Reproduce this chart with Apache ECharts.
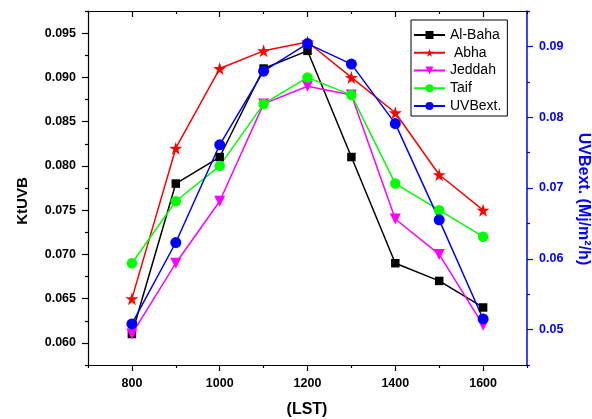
<!DOCTYPE html>
<html><head><meta charset="utf-8">
<script src="https://cdn.jsdelivr.net/npm/echarts@6/dist/echarts.min.js"></script>
<style>html,body{margin:0;padding:0;background:#fff}#c{width:592px;height:419px}</style>
</head><body><div id="c"></div>
<script>
const hours = [800, 900, 1000, 1100, 1200, 1300, 1400, 1500, 1600];
const alBaha = [0.061, 0.078, 0.081, 0.091, 0.093, 0.081, 0.069, 0.067, 0.064];
const abha   = [0.065, 0.082, 0.091, 0.093, 0.094, 0.090, 0.086, 0.079, 0.075];
const jeddah = [0.061, 0.069, 0.076, 0.087, 0.089, 0.088, 0.074, 0.070, 0.062];
const taif   = [0.069, 0.076, 0.080, 0.087, 0.090, 0.088, 0.078, 0.075, 0.072];
const uvbExt = [0.0508, 0.0623, 0.0761, 0.0865, 0.0904, 0.0875, 0.0791, 0.0655, 0.0515];
const xTickLabels = [800, 1000, 1200, 1400, 1600];
const xMinorTicks = [700, 900, 1100, 1300, 1500, 1700];
const leftTickLabels = [0.060, 0.065, 0.070, 0.075, 0.080, 0.085, 0.090, 0.095];
const leftMinorTicks = [0.0575, 0.0625, 0.0675, 0.0725, 0.0775, 0.0825, 0.0875, 0.0925, 0.0975];
const rightTickLabels = [0.05, 0.06, 0.07, 0.08, 0.09];
const rightMinorTicks = [0.045, 0.055, 0.065, 0.075, 0.085, 0.095];

const FONT = "'Liberation Sans', Arial, sans-serif";
const STAR = 'path://M50,0 L61,35 L98,35 L68,57 L79,91 L50,70 L21,91 L32,57 L2,35 L39,35 Z';
const pairs = arr => hours.map((h, i) => [h, arr[i]]);
const lblStyle = {fontFamily: FONT, fontWeight: 'bold', fontSize: 12.5, color: '#000'};

function xAx(pos, ticks, len, inside, labels, showLine) {
  return {
    type: 'value', position: pos, min: 700, max: 1700, gridIndex: 0,
    axisLine: {show: showLine, lineStyle: {color: '#000', width: 1.2}},
    axisTick: {show: true, customValues: ticks, length: len, inside: inside, lineStyle: {color: '#000', width: 1.2}},
    axisLabel: labels ? Object.assign({show: true, customValues: labels, margin: 12, formatter: v => String(v)}, lblStyle) : {show: false},
    splitLine: {show: false}
  };
}
function yAx(pos, min, max, ticks, len, labels, color, fmt, showLine) {
  return {
    type: 'value', position: pos, min: min, max: max, gridIndex: 0,
    axisLine: {show: showLine, lineStyle: {color: color, width: pos === 'right' ? 1.5 : 1.2}},
    axisTick: {show: true, customValues: ticks, length: len, inside: false, lineStyle: {color: color, width: 1.2}},
    axisLabel: labels ? Object.assign({}, lblStyle, {show: true, customValues: labels, margin: 12, color: color, formatter: fmt}) : {show: false},
    splitLine: {show: false}
  };
}

const chart = echarts.init(document.getElementById('c'), null, {renderer: 'canvas'});
chart.setOption({
  backgroundColor: '#ffffff',
  animation: false,
  grid: {left: 88, right: 65, top: 11, bottom: 54, containLabel: false},
  xAxis: [
    xAx('bottom', xTickLabels, 6, false, xTickLabels, true),
    xAx('bottom', xMinorTicks, 3, false, null, false),
    xAx('top', xTickLabels, 6, true, null, true),
    xAx('top', xMinorTicks, 3, true, null, false)
  ],
  yAxis: [
    yAx('left', 0.0575, 0.0975, leftTickLabels, 6, leftTickLabels, '#000', v => v.toFixed(3), true),
    yAx('left', 0.0575, 0.0975, leftMinorTicks, 3, null, '#000', null, false),
    yAx('right', 0.045, 0.095, rightTickLabels, 6, rightTickLabels, '#0000ff', v => v.toFixed(2), true),
    yAx('right', 0.045, 0.095, rightMinorTicks, 3, null, '#0000ff', null, false)
  ],
  legend: {
    orient: 'vertical', left: 411, top: 20,
    padding: [8, 6, 3, 2], itemGap: 3.75, itemWidth: 31, itemHeight: 10,
    borderColor: '#000', borderWidth: 1, backgroundColor: '#fff',
    textStyle: {fontFamily: FONT, fontSize: 14, color: '#000', lineHeight: 14},
    data: ['Al-Baha', ' Abha', 'Jeddah', 'Taif', 'UVBext.']
  },
  series: [
    {name: 'Al-Baha', type: 'line', xAxisIndex: 0, yAxisIndex: 0, data: pairs(alBaha),
     symbol: 'rect', symbolSize: 8.5, color: '#000000', lineStyle: {width: 1.5, color: '#000'}, itemStyle: {color: '#000'}},
    {name: ' Abha', type: 'line', xAxisIndex: 0, yAxisIndex: 0, data: pairs(abha),
     symbol: STAR, symbolSize: 13, color: '#ff0000', lineStyle: {width: 1.5, color: '#ff0000'}, itemStyle: {color: '#ff0000'}},
    {name: 'Jeddah', type: 'line', xAxisIndex: 0, yAxisIndex: 0, data: pairs(jeddah),
     symbol: 'triangle', symbolRotate: 180, symbolSize: 11, color: '#ff00ff', lineStyle: {width: 1.5, color: '#ff00ff'}, itemStyle: {color: '#ff00ff'}},
    {name: 'Taif', type: 'line', xAxisIndex: 0, yAxisIndex: 0, data: pairs(taif),
     symbol: 'circle', symbolSize: 10.5, color: '#00ff00', lineStyle: {width: 1.5, color: '#00ff00'}, itemStyle: {color: '#00ff00'}},
    {name: 'UVBext.', type: 'line', xAxisIndex: 0, yAxisIndex: 2, data: pairs(uvbExt),
     symbol: 'circle', symbolSize: 11, color: '#0000ff', lineStyle: {width: 1.5, color: '#0000ff'}, itemStyle: {color: '#0000ff'}}
  ],
  graphic: [
    {type: 'text', x: 23, y: 201, rotation: Math.PI / 2,
     style: {text: 'KtUVB', fontFamily: FONT, fontWeight: 'bold', fontSize: 15, fill: '#000', align: 'center', verticalAlign: 'middle'}},
    {type: 'text', x: 583, y: 199, rotation: -Math.PI / 2,
     style: {text: 'UVBext. (Mj/m²/h)', fontFamily: FONT, fontWeight: 'bold', fontSize: 16, fill: '#0000ff', align: 'center', verticalAlign: 'middle'}},
    {type: 'text', x: 307, y: 410,
     style: {text: '(LST)', fontFamily: FONT, fontWeight: 'bold', fontSize: 16, fill: '#000', align: 'center', verticalAlign: 'middle'}}
  ]
});
</script>
</body></html>
